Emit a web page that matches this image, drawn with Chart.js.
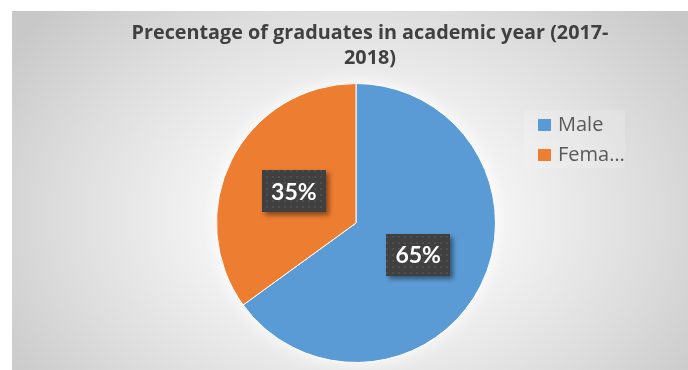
<!DOCTYPE html>
<html>
<head>
<meta charset="utf-8">
<script src="https://cdn.jsdelivr.net/npm/chart.js@4"></script>
<style>
  html, body { margin: 0; padding: 0; background: #fff; }
  .frame {
    position: absolute; left: 12px; top: 11px; width: 676px; height: 359px;
    background: radial-gradient(ellipse 420px 300px at 344px 205px, #ffffff 0%, #f3f3f3 35%, #dddddd 70%, #c8c8c8 100%);
  }
  .holder { position: absolute; left: 0; top: 0; width: 688px; height: 370px; }
</style>
</head>
<body>
<div class="frame"></div>
<div class="holder"><canvas id="grads"></canvas></div>
<script>
// ---------- Data ----------
const categories  = ["Male", "Female"];
const shares      = [65, 35];
const sliceColors = ["#5B9BD5", "#ED7D31"];
const titleLines  = ["Precentage of graduates in academic year (2017-", "2018)"];

// ---------- Helpers ----------
function shortName(name) {
    return name.length > 5 ? name.slice(0, 4) + "\u2026" : name;
}

// little dotted fill used behind the percentage labels
function dotPattern(ctx) {
    const c = document.createElement("canvas");
    c.width = 6; c.height = 6;
    const p = c.getContext("2d");
    p.fillStyle = "#404040";
    p.fillRect(0, 0, 6, 6);
    p.fillStyle = "#4f4f4f";
    p.fillRect(2, 2, 2, 2);
    return ctx.createPattern(c, "repeat");
}

// ---------- Plugins ----------
const pieGlow = {
    id: "pieGlow",
    beforeDatasetsDraw(chart) {
        const arc = chart.getDatasetMeta(0).data[0];
        if (!arc) return;
        const ctx = chart.ctx;
        ctx.save();
        ctx.shadowColor = "rgba(255,255,255,0.95)";
        ctx.shadowBlur = 18;
        ctx.fillStyle = "#f7f7f7";
        ctx.beginPath();
        ctx.arc(arc.x, arc.y, arc.outerRadius, 0, Math.PI * 2);
        ctx.fill();
        ctx.restore();
    }
};

const titleText = {
    id: "titleText",
    afterDraw(chart) {
        const ctx = chart.ctx;
        ctx.save();
        ctx.font = "bold 19.8px 'Open Sans'";
        ctx.fillStyle = "#404040";
        ctx.textAlign = "center";
        ctx.textBaseline = "alphabetic";
        ctx.fillText(titleLines[0], 370, 39);
        ctx.fillText(titleLines[1], 370, 64);
        ctx.restore();
    }
};

const sideLegend = {
    id: "sideLegend",
    afterDraw(chart) {
        const ctx = chart.ctx;
        ctx.save();
        ctx.fillStyle = "rgba(255,255,255,0.15)";
        ctx.fillRect(524, 110, 101, 58);
        ctx.font = "20px 'Open Sans'";
        ctx.textBaseline = "alphabetic";
        categories.forEach((name, i) => {
            const y = 119 + i * 30;
            ctx.fillStyle = sliceColors[i];
            ctx.fillRect(538, y, 13, 12);
            ctx.fillStyle = "#595959";
            ctx.fillText(shortName(name), 558, y + 12);
        });
        ctx.restore();
    }
};

const valueBoxes = {
    id: "valueBoxes",
    afterDatasetsDraw(chart) {
        const ctx = chart.ctx;
        const fill = dotPattern(ctx);
        const meta = chart.getDatasetMeta(0);
        meta.data.forEach((arc, i) => {
            const pos = arc.tooltipPosition();
            const w = 64, h = 42;
            const x = Math.round(pos.x - w / 2), y = Math.round(pos.y - h / 2);
            ctx.save();
            ctx.shadowColor = "rgba(0,0,0,0.45)";
            ctx.shadowBlur = 5;
            ctx.shadowOffsetX = 3;
            ctx.shadowOffsetY = 3;
            ctx.fillStyle = fill;
            ctx.fillRect(x, y, w, h);
            ctx.restore();
            ctx.save();
            ctx.font = "bold 23px Lato";
            ctx.fillStyle = "#ffffff";
            ctx.textAlign = "center";
            ctx.textBaseline = "middle";
            ctx.fillText(shares[i] + "%", pos.x, pos.y + 1);
            ctx.restore();
        });
    }
};

// ---------- Chart ----------
new Chart(document.getElementById("grads"), {
    type: "pie",
    data: {
        labels: categories,
        datasets: [{
            data: shares,
            backgroundColor: sliceColors,
            borderColor: "#ffffff",
            borderWidth: 1
        }]
    },
    options: {
        responsive: true,
        maintainAspectRatio: false,
        animation: false,
        layout: { padding: { top: 83, bottom: 7, left: 216, right: 192 } },
        plugins: {
            legend: { display: false },
            title: { display: false },
            tooltip: { enabled: false }
        }
    },
    plugins: [pieGlow, valueBoxes, titleText, sideLegend]
});
</script>
</body>
</html>
